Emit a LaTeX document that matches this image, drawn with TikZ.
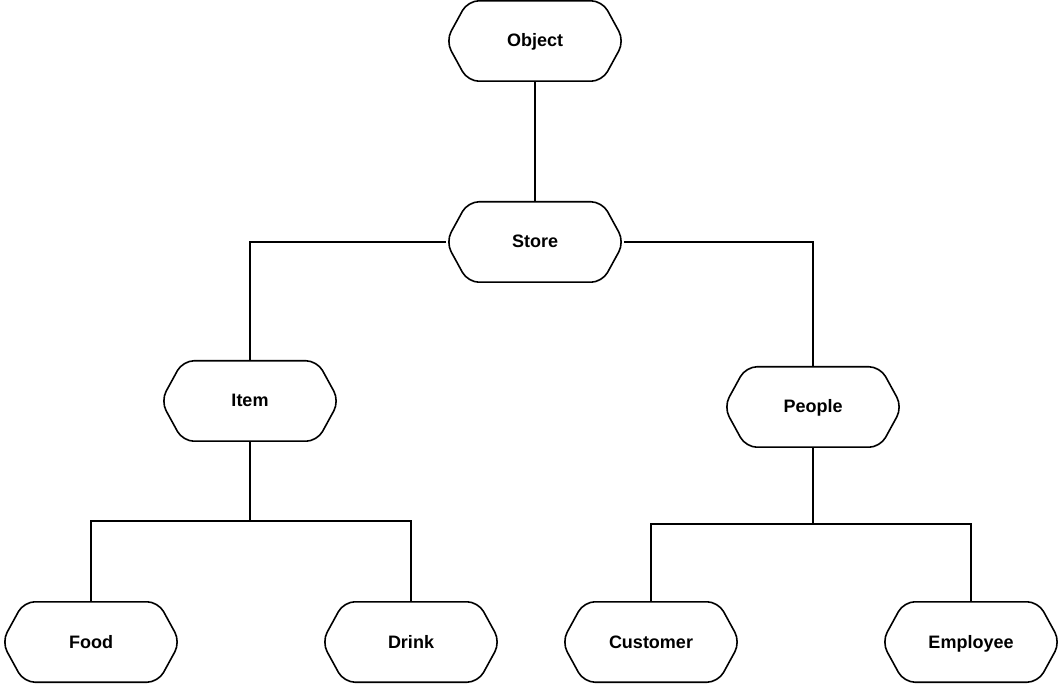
\documentclass[tikz,border=0pt]{standalone}
\usepackage{fontspec}
\setmainfont{Liberation Sans}
\begin{document}
\begin{tikzpicture}[x=1pt,y=1pt,
  hex/.style={minimum width=178pt,minimum height=80pt,inner sep=0pt,
    text height=12.5pt,text depth=0.5pt,
    font=\fontsize{18}{20}\selectfont\bfseries},
  link/.style={line width=1.6pt,line join=miter}]
\useasboundingbox[fill=white] (0,0) rectangle (1062,683);
\node[hex] (obj) at (535,642) {Object};
\node[hex] (store) at (535,441) {Store};
\node[hex] (item) at (250,282) {Item};
\node[hex] (people) at (813,276) {People};
\node[hex] (food) at (91,41) {Food};
\node[hex] (drink) at (411,41) {Drink};
\node[hex] (cust) at (651,41) {Customer};
\node[hex] (emp) at (971,41) {Employee};
\foreach \n in {obj,store,item,people,food,drink,cust,emp}{
  \draw[line width=1.6pt,rounded corners=11pt]
    ([xshift=22pt]\n.north west) -- ([xshift=-22pt]\n.north east) -- (\n.east)
    -- ([xshift=-22pt]\n.south east) -- ([xshift=22pt]\n.south west) -- (\n.west) -- cycle;
}
\draw[link] (obj.south) -- (store.north);
\draw[link] (store.west) -| (item.north);
\draw[link] (store.east) -| (people.north);
\draw[link] (item.south) -- ++(0,-80) -| (food.north);
\draw[link] (item.south) -- ++(0,-80) -| (drink.north);
\draw[link] (people.south) -- ++(0,-77) -| (cust.north);
\draw[link] (people.south) -- ++(0,-77) -| (emp.north);
\end{tikzpicture}
\end{document}
